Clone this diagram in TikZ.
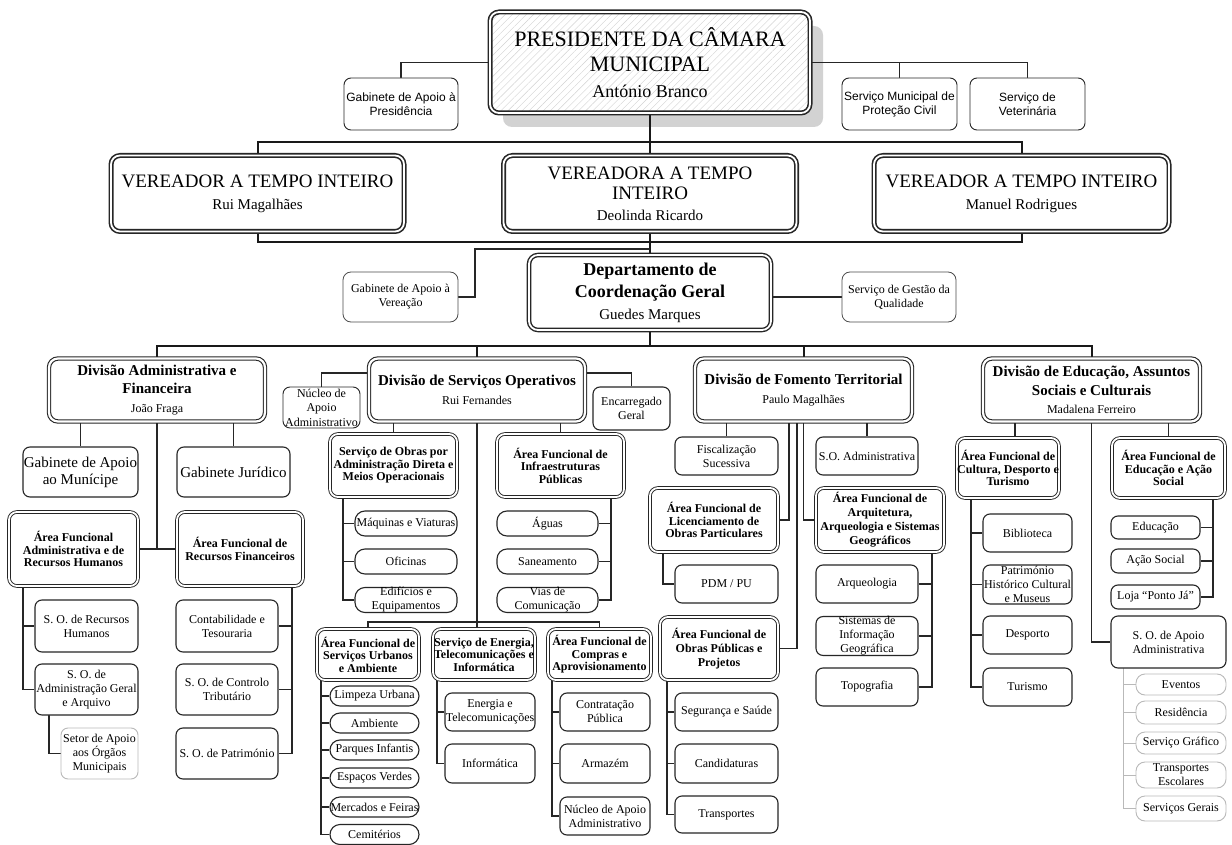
\documentclass[tikz,border=0pt]{standalone}
\usepackage{fontspec}
\setmainfont{Liberation Serif}
\newfontfamily\sansf{Liberation Sans}
\usetikzlibrary{patterns.meta}
\pgfdeclarelayer{bg}
\pgfsetlayers{bg,main}
\begin{document}
\begin{tikzpicture}[x=1pt,y=-1pt,
 conn/.style={line width=1.1pt, draw=black!85},
 bigconn/.style={line width=2pt, draw=black!90},
 grayconn/.style={line width=1pt, draw=gray!55},
 box/.style={draw=black!85, line width=1.1pt, rounded corners=7pt, fill=white, align=center, inner sep=0pt, font=\fontsize{12}{14}\selectfont},
 pillbox/.style={box, rounded corners=10pt},
 grayb/.style={box, draw=gray!55, line width=0.9pt},
 graypill/.style={grayb, rounded corners=9pt},
 sansbox/.style={box, line width=0.9pt, font=\sansf\fontsize{12}{14}\selectfont},
 afbox/.style={box, double=white, double distance=1.8pt, line width=0.9pt, rounded corners=8pt, font=\bfseries\fontsize{12}{12.5}\selectfont},
 divbox/.style={box, double=white, double distance=2.2pt, line width=1.1pt, rounded corners=9pt, font=\bfseries\fontsize{15}{18.5}\selectfont},
 verbox/.style={box, double=white, double distance=1.8pt, line width=1.6pt, rounded corners=9pt},
]
\useasboundingbox (0,0) rectangle (1232,845);

% ---------- top level ----------
\node[verbox, fill=none, preaction={fill=white}, preaction={pattern={Lines[angle=45,distance=5pt,line width=0.4pt]}, pattern color=gray!35},
  minimum width=320pt, minimum height=101pt, font=\fontsize{22}{25.5}\selectfont] (pres) at (650,62.5)
  {PRESIDENTE DA CÂMARA\\MUNICIPAL\\{\fontsize{18}{25.5}\selectfont António Branco}};
\node[sansbox, minimum width=114pt, minimum height=52pt] (gap) at (401,104) {Gabinete de Apoio à\\Presidência};
\node[sansbox, minimum width=115pt, minimum height=52pt] (smpc) at (899.5,104) {Serviço Municipal de\\Proteção Civil};
\node[sansbox, minimum width=115pt, minimum height=52pt] (svet) at (1027.5,104) {Serviço de\\Veterinária};

\node[verbox, minimum width=293pt, minimum height=76pt, font=\fontsize{19}{22}\selectfont] (verL) at (257.5,193.5)
  {VEREADOR A TEMPO INTEIRO\\{\fontsize{15}{22}\selectfont Rui Magalhães}};
\node[verbox, minimum width=293pt, minimum height=76pt, font=\fontsize{19}{20.5}\selectfont] (verC) at (650,193.5)
  {VEREADORA A TEMPO\\INTEIRO\\{\fontsize{15}{20.5}\selectfont Deolinda Ricardo}};
\node[verbox, minimum width=295pt, minimum height=76pt, font=\fontsize{19}{22}\selectfont] (verR) at (1021.5,193.5)
  {VEREADOR A TEMPO INTEIRO\\{\fontsize{15}{22}\selectfont Manuel Rodrigues}};

\node[verbox, line width=1.4pt, minimum width=242pt, minimum height=75pt, font=\bfseries\fontsize{18}{22}\selectfont] (dcg) at (650,292.5)
  {Departamento de\\Coordenação Geral\\{\mdseries\fontsize{15}{22}\selectfont Guedes Marques}};
\node[box, draw=black!70, line width=0.8pt, rounded corners=8pt, minimum width=115pt, minimum height=50pt] (gav) at (400.5,297) {Gabinete de Apoio à\\Vereação};
\node[box, draw=black!70, line width=0.8pt, rounded corners=8pt, minimum width=114pt, minimum height=50pt] (sgq) at (899,297) {Serviço de Gestão da\\Qualidade};

% ---------- divisions ----------
\node[divbox, minimum width=216pt, minimum height=63pt] (daf) at (157,390)
  {Divisão Administrativa e\\Financeira\\{\mdseries\fontsize{12}{18.5}\selectfont João Fraga}};
\node[divbox, minimum width=216pt, minimum height=63pt, font=\bfseries\fontsize{15}{19}\selectfont] (dso) at (477,390)
  {Divisão de Serviços Operativos\\{\mdseries\fontsize{12}{19}\selectfont Rui Fernandes}};
\node[divbox, minimum width=217pt, minimum height=63pt, font=\bfseries\fontsize{15}{19}\selectfont] (dft) at (803.5,390)
  {Divisão de Fomento Territorial\\{\mdseries\fontsize{12}{19}\selectfont Paulo Magalhães}};
\node[divbox, minimum width=217pt, minimum height=63pt] (deasc) at (1091.5,390)
  {Divisão de Educação, Assuntos\\Sociais e Culturais\\{\mdseries\fontsize{12}{18.5}\selectfont Madalena Ferreiro}};

% ---------- DAF ----------
\node[box, minimum width=115pt, minimum height=50pt, font=\fontsize{15}{17}\selectfont] (gam) at (80.5,472) {Gabinete de Apoio\\ao Munícipe};
\node[box, minimum width=113pt, minimum height=50pt, font=\fontsize{15}{17}\selectfont] (gj) at (233.5,472) {Gabinete Jurídico};
\node[afbox, minimum width=129pt, minimum height=74pt] (afarh) at (73.5,549) {Área Funcional\\Administrativa e de\\Recursos Humanos};
\node[afbox, minimum width=126pt, minimum height=74pt] (afrf) at (240,549) {Área Funcional de\\Recursos Financeiros};
\node[box, minimum width=103pt, minimum height=52pt] (sorh) at (86.5,626) {S. O. de Recursos\\Humanos};
\node[box, minimum width=103pt, minimum height=51pt] (soag) at (86.5,689.5) {S. O. de\\Administração Geral\\e Arquivo};
\node[grayb, minimum width=77pt, minimum height=51pt] (setor) at (99.5,753.5) {Setor de Apoio\\aos Órgãos\\Municipais};
\node[box, minimum width=102pt, minimum height=52pt] (ct) at (227,626) {Contabilidade e\\Tesouraria};
\node[box, minimum width=102pt, minimum height=51pt] (soct) at (227,689.5) {S. O. de Controlo\\Tributário};
\node[box, minimum width=102pt, minimum height=51pt] (sop) at (227,753.5) {S. O. de Património};

% ---------- DSO ----------
\node[box, line width=0.9pt, minimum width=77pt, minimum height=41pt, font=\fontsize{12}{14.5}\selectfont] (nucleo) at (321.5,407.5) {Núcleo de\\Apoio\\Administrativo};
\node[box, minimum width=77pt, minimum height=43pt] (enc) at (631.5,408.5) {Encarregado\\Geral};
\node[afbox, minimum width=127pt, minimum height=63pt] (soad) at (393.5,465.5) {Serviço de Obras por\\Administração Direta e\\Meios Operacionais};
\node[afbox, minimum width=127pt, minimum height=63pt] (afip) at (560.5,465.5) {Área Funcional de\\Infraestruturas\\Públicas};
\node[pillbox, minimum width=102pt, minimum height=25pt] (maq) at (406,523.5) {Máquinas e Viaturas};
\node[pillbox, minimum width=102pt, minimum height=25pt] (ofi) at (406,561.5) {Oficinas};
\node[pillbox, minimum width=102pt, minimum height=25pt] (edi) at (406,600) {Edifícios e\\Equipamentos};
\node[pillbox, minimum width=101pt, minimum height=25pt] (aguas) at (547.5,523.5) {Águas};
\node[pillbox, minimum width=101pt, minimum height=25pt] (san) at (547.5,561.5) {Saneamento};
\node[pillbox, minimum width=101pt, minimum height=25pt] (vias) at (547.5,600) {Vias de\\Comunicação};
\node[afbox, minimum width=102pt, minimum height=51pt] (afsua) at (368,654.5) {Área Funcional de\\Serviços Urbanos\\e Ambiente};
\node[afbox, minimum width=102pt, minimum height=51pt] (seti) at (484,654.5) {Serviço de Energia,\\Telecomunicações e\\Informática};
\node[afbox, minimum width=103pt, minimum height=51pt] (afca) at (599.5,654.5) {Área Funcional de\\Compras e\\Aprovisionamento};
\node[pillbox, minimum width=89pt, minimum height=20pt] (limp) at (374.5,696) {Limpeza Urbana};
\node[pillbox, minimum width=89pt, minimum height=20pt] (amb) at (374.5,723) {Ambiente};
\node[pillbox, minimum width=89pt, minimum height=20pt] (parq) at (374.5,750) {Parques Infantis};
\node[pillbox, minimum width=89pt, minimum height=20pt] (esp) at (374.5,778) {Espaços Verdes};
\node[pillbox, minimum width=89pt, minimum height=20pt] (merc) at (374.5,807) {Mercados e Feiras};
\node[pillbox, minimum width=89pt, minimum height=20pt] (cem) at (374.5,834.5) {Cemitérios};
\node[box, minimum width=90pt, minimum height=38pt] (ene) at (490,712) {Energia e\\Telecomunicações};
\node[box, minimum width=90pt, minimum height=39pt] (inf) at (490,763.5) {Informática};
\node[box, minimum width=90pt, minimum height=38pt] (contr) at (605,712) {Contratação\\Pública};
\node[box, minimum width=90pt, minimum height=39pt] (arm) at (605,763.5) {Armazém};
\node[box, minimum width=90pt, minimum height=38pt] (nuc2) at (605,816) {Núcleo de Apoio\\Administrativo};

% ---------- DFT ----------
\node[box, minimum width=103pt, minimum height=38pt] (fisc) at (726.5,456) {Fiscalização\\Sucessiva};
\node[box, minimum width=102pt, minimum height=38pt] (soa) at (867,456) {S.O. Administrativa};
\node[afbox, minimum width=128pt, minimum height=64pt] (aflop) at (714,520) {Área Funcional de\\Licenciamento de\\Obras Particulares};
\node[afbox, minimum width=128pt, minimum height=64pt, font=\bfseries\fontsize{12}{14}\selectfont] (afaasg) at (880,520) {Área Funcional de\\Arquitetura,\\Arqueologia e Sistemas\\Geográficos};
\node[box, minimum width=103pt, minimum height=38pt] (pdm) at (726.5,584) {PDM / PU};
\node[box, minimum width=102pt, minimum height=38pt] (arq) at (867,584) {Arqueologia};
\node[box, minimum width=102pt, minimum height=38pt] (sig) at (867,636) {Sistemas de\\Informação\\Geográfica};
\node[box, minimum width=102pt, minimum height=38pt] (topo) at (867,687) {Topografia};
\node[afbox, minimum width=118pt, minimum height=63pt, font=\bfseries\fontsize{12}{14}\selectfont] (afopp) at (719,648.5) {Área Funcional de\\Obras Públicas e\\Projetos};
\node[box, minimum width=103pt, minimum height=38pt] (seg) at (726.5,712) {Segurança e Saúde};
\node[box, minimum width=103pt, minimum height=39pt] (cand) at (726.5,763.5) {Candidaturas};
\node[box, minimum width=103pt, minimum height=37pt] (transp) at (726.5,814.5) {Transportes};

% ---------- DEASC ----------
\node[afbox, minimum width=102pt, minimum height=60pt] (afcdt) at (1008,468) {Área Funcional de\\Cultura, Desporto e\\Turismo};
\node[afbox, minimum width=113pt, minimum height=60pt] (afeas) at (1168.5,468) {Área Funcional de\\Educação e Ação\\Social};
\node[box, minimum width=89pt, minimum height=38pt] (bib) at (1027.5,533) {Biblioteca};
\node[box, minimum width=89pt, minimum height=39pt] (pat) at (1027.5,584.5) {Património\\Histórico Cultural\\e Museus};
\node[box, minimum width=89pt, minimum height=38pt] (desp) at (1027.5,635) {Desporto};
\node[box, minimum width=89pt, minimum height=38pt] (tur) at (1027.5,687) {Turismo};
\node[box, minimum width=89pt, minimum height=23pt] (edu) at (1155.5,527.5) {Educação};
\node[box, minimum width=89pt, minimum height=24pt] (acao) at (1155.5,561) {Ação Social};
\node[box, minimum width=89pt, minimum height=24pt] (loja) at (1155.5,597) {Loja “Ponto Já”};
\node[box, minimum width=115pt, minimum height=52pt] (soaa) at (1168.5,642) {S. O. de Apoio\\Administrativa};
\node[graypill, minimum width=90pt, minimum height=21pt] (ev) at (1181,684.5) {Eventos};
\node[graypill, minimum width=90pt, minimum height=23pt] (res) at (1181,712.5) {Residência};
\node[graypill, minimum width=90pt, minimum height=22pt] (sg) at (1181,743) {Serviço Gráfico};
\node[graypill, minimum width=90pt, minimum height=26pt] (te) at (1181,775) {Transportes\\Escolares};
\node[graypill, minimum width=90pt, minimum height=25pt] (sger) at (1181,808.5) {Serviços Gerais};

% ---------- connectors ----------
\begin{pgfonlayer}{bg}
\fill[white] (0,0) rectangle (1232,845);
\fill[gray!35, rounded corners=9pt] (503,26) rectangle (823,127);
\draw[conn] (pres.west) -| (gap.north);
\draw[conn] (pres.east) -| (svet.north);
\draw[conn] (smpc.north) -- (smpc.north |- pres.east);
\coordinate (h1) at (650,142);
\draw[bigconn] (pres.south) -- (h1);
\draw[bigconn] (verL.north) -- (verL.north |- h1) -- (verR.north |- h1) -- (verR.north);
\draw[bigconn] (h1) -- (verC.north);
\coordinate (h2) at (650,242);
\draw[bigconn] (verL.south) -- (verL.south |- h2) -- (verR.south |- h2) -- (verR.south);
\draw[bigconn] (verC.south) -- (dcg.north);
\coordinate (h3) at (650,249);
\coordinate (k1) at (475,297);
\draw[conn] (h3) -| (k1) -- (gav.east);
\draw[conn] (dcg.east |- sgq.west) -- (sgq.west);
\coordinate (h4) at (650,346);
\draw[bigconn] (dcg.south) -- (h4);
\draw[bigconn] (daf.north) -- (daf.north |- h4) -- (deasc.north |- h4) -- (deasc.north);
\draw[bigconn] (dso.north) -- (dso.north |- h4);
\draw[bigconn] (dft.north) -- (dft.north |- h4);
% DAF
\draw[conn] (gam.north) -- (gam.north |- daf.south);
\draw[conn] (gj.north) -- (gj.north |- daf.south);
\draw[conn] (daf.south) -- (daf.south |- afarh.east);
\draw[conn] (afarh.east) -- (afrf.west);
\coordinate (v1) at (23,586);
\draw[conn] (v1) |- (sorh.west);
\draw[conn] (v1) |- (soag.west);
\coordinate (v2) at (49,715);
\draw[conn] (v2) |- (setor.west);
\coordinate (v3) at (292,586);
\draw[conn] (v3) |- (ct.east);
\draw[conn] (v3) |- (soct.east);
\draw[conn] (v3) |- (sop.east);
% DSO
\draw[conn] ([yshift=17pt]dso.west) -| (nucleo.north);
\draw[conn] ([yshift=17pt]dso.east) -| (enc.north);
\draw[conn] (soad.north) -- (soad.north |- dso.south);
\draw[conn] (afip.north) -- (afip.north |- dso.south);
\coordinate (v4) at (343,497);
\draw[conn] (v4) |- (maq.west);
\draw[conn] (v4) |- (ofi.west);
\draw[conn] (v4) |- (edi.west);
\coordinate (v5) at (611,497);
\draw[conn] (v5) |- (aguas.east);
\draw[conn] (v5) |- (san.east);
\draw[conn] (v5) |- (vias.east);
\coordinate (h5) at (477,622);
\draw[conn] (dso.south) -- (h5) -- (h5 |- seti.north);
\draw[conn] (afsua.north) -- (afsua.north |- h5) -- (afca.north |- h5) -- (afca.north);
\coordinate (v6) at (321,680);
\draw[conn] (v6) |- (limp.west);
\draw[conn] (v6) |- (amb.west);
\draw[conn] (v6) |- (parq.west);
\draw[conn] (v6) |- (esp.west);
\draw[conn] (v6) |- (merc.west);
\draw[conn] (v6) |- (cem.west);
\coordinate (v7) at (437,680);
\draw[conn] (v7) |- (ene.west);
\draw[conn] (v7) |- (inf.west);
\coordinate (v8) at (552,680);
\draw[conn] (v8) |- (contr.west);
\draw[conn] (v8) |- (arm.west);
\draw[conn] (v8) |- (nuc2.west);
% DFT
\draw[conn] (fisc.north) -- (fisc.north |- dft.south);
\draw[conn] (soa.north) -- (soa.north |- dft.south);
\coordinate (v9) at (789,421);
\draw[conn] (v9) |- (aflop.east);
\draw[conn] (dft.south) |- (afaasg.west);
\coordinate (v11) at (797,421);
\draw[conn] (v11) |- (afopp.east);
\coordinate (v12) at (663,552);
\draw[conn] (v12) |- (pdm.west);
\coordinate (v13) at (932,552);
\draw[conn] (v13) |- (arq.east);
\draw[conn] (v13) |- (sig.east);
\draw[conn] (v13) |- (topo.east);
\coordinate (v14) at (667,680);
\draw[conn] (v14) |- (seg.west);
\draw[conn] (v14) |- (cand.west);
\draw[conn] (v14) |- (transp.west);
% DEASC
\draw[conn] ([xshift=7pt]afcdt.north) -- ([xshift=7pt]afcdt.north |- deasc.south);
\draw[conn] (afeas.north) -- (afeas.north |- deasc.south);
\draw[conn] (deasc.south) |- (soaa.west);
\coordinate (v15) at (971,498);
\draw[conn] (v15) |- (bib.west);
\draw[conn] (v15) |- (pat.west);
\draw[conn] (v15) |- (desp.west);
\draw[conn] (v15) |- (tur.west);
\coordinate (v16) at (1213,498);
\draw[conn] (v16) |- (edu.east);
\draw[conn] (v16) |- (acao.east);
\draw[conn] (v16) |- (loja.east);
\coordinate (v17) at (1123,668);
\draw[grayconn] (v17) |- (ev.west);
\draw[grayconn] (v17) |- (res.west);
\draw[grayconn] (v17) |- (sg.west);
\draw[grayconn] (v17) |- (te.west);
\draw[grayconn] (v17) |- (sger.west);
\end{pgfonlayer}
\end{tikzpicture}
\end{document}
